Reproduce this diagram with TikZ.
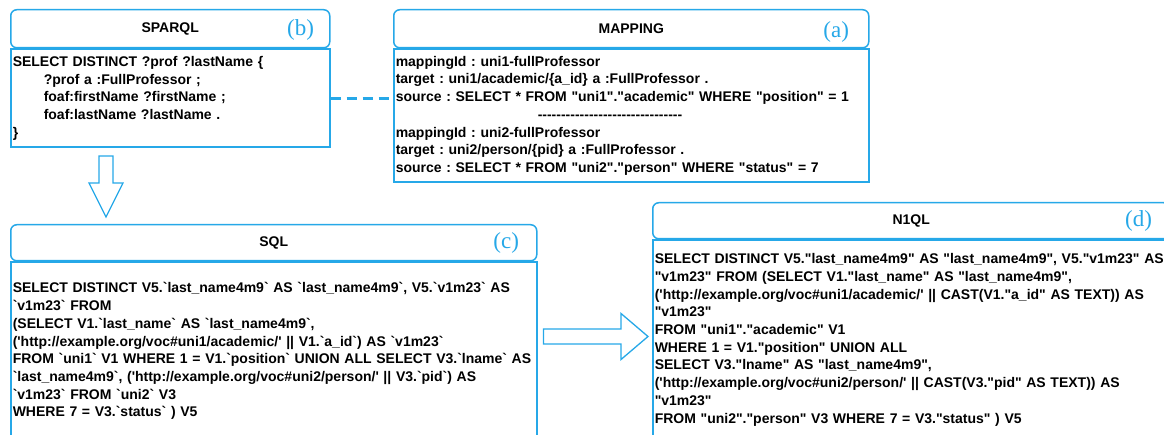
\documentclass[tikz,border=0pt]{standalone}
\usepackage{fontspec}
\newfontfamily\codefont{Liberation Sans}
\newfontfamily\tagfont{Liberation Serif}
\usepackage{tikz}
\usetikzlibrary{positioning,calc}
\definecolor{boxBlue}{RGB}{38,168,232}

\begin{document}
\begin{tikzpicture}[
  x=1pt, y=-1pt,
  head/.style={rectangle, rounded corners=6pt, draw=boxBlue, line width=1.5pt, fill=white,
    font=\codefont\bfseries\fontsize{14}{17}\selectfont, anchor=north west},
  body/.style={rectangle, draw=boxBlue, line width=1.5pt, align=left, inner xsep=2pt, inner ysep=0pt,
    font=\codefont\bfseries\fontsize{14}{17.7}\selectfont\frenchspacing},
  tag/.style={font=\tagfont\fontsize{23}{23}\selectfont, text=boxBlue, anchor=east},
  hollowArrow/.style={draw=boxBlue, line width=1.3pt, fill=white, line join=miter},
  dashLink/.style={draw=boxBlue, line width=3pt, dash pattern=on 10pt off 6pt}
]
  \useasboundingbox (0,0) rectangle (1164,435);

  % query side
  \node[head, minimum width=319pt, minimum height=38pt] (sparqlHead) at (10,9) {SPARQL};
  \node[body, below=0pt of sparqlHead, minimum width=319pt, text width=315pt, minimum height=98pt] (sparqlBody)
    {SELECT DISTINCT ?prof ?lastName \{\\
     \hspace*{31pt}?prof a :FullProfessor ;\\
     \hspace*{31pt}foaf:firstName ?firstName ;\\
     \hspace*{31pt}foaf:lastName ?lastName .\\
     \}};
  \node[tag] (sparqlTag) at ([xshift=-13pt, yshift=-1pt]sparqlHead.east) {(b)};

  % mapping
  \node[head, minimum width=475pt, minimum height=38pt] (mapHead) at (393,9) {MAPPING};
  \node[body, below=0pt of mapHead, minimum width=475pt, text width=471pt, minimum height=133pt] (mapBody)
    {mappingId : uni1-fullProfessor\\
     target : uni1/academic/\{a\_id\} a :FullProfessor .\\
     source : SELECT * FROM "uni1"."academic" WHERE "position" = 1\\
     \hspace*{142pt}-------------------------------\\
     mappingId : uni2-fullProfessor\\
     target : uni2/person/\{pid\} a :FullProfessor .\\
     source : SELECT * FROM "uni2"."person" WHERE "status" = 7};
  \node[tag] (mapTag) at ([xshift=-17pt, yshift=-3pt]mapHead.east) {(a)};

  % SQL
  \node[head, minimum width=526pt, minimum height=36pt] (sqlHead) at (10,224) {SQL};
  \node[body, below=0pt of sqlHead, minimum width=526pt, text width=522pt, minimum height=178pt] (sqlBody)
    {SELECT DISTINCT V5.`last\_name4m9` AS `last\_name4m9`, V5.`v1m23` AS\\
     `v1m23` FROM\\
     (SELECT V1.`last\_name` AS `last\_name4m9`,\\
     ('http://example.org/voc\#uni1/academic/' || V1.`a\_id`) AS `v1m23`\\
     FROM `uni1` V1 WHERE 1 = V1.`position` UNION ALL SELECT V3.`lname` AS\\
     `last\_name4m9`, ('http://example.org/voc\#uni2/person/' || V3.`pid`) AS\\
     `v1m23` FROM `uni2` V3\\
     WHERE 7 = V3.`status` ) V5};
  \node[tag] (sqlTag) at ([xshift=-15pt]sqlHead.east) {(c)};

  % N1QL
  \node[head, minimum width=517pt, minimum height=36pt] (nqlHead) at (652,202) {N1QL};
  \node[body, anchor=north west, minimum width=517pt, text width=545pt, minimum height=199pt] (nqlBody)
    at (nqlHead.south west)
    {SELECT DISTINCT V5."last\_name4m9" AS "last\_name4m9", V5."v1m23" AS\\
     "v1m23" FROM (SELECT V1."last\_name" AS "last\_name4m9",\\
     ('http://example.org/voc\#uni1/academic/' || CAST(V1."a\_id" AS TEXT)) AS\\
     "v1m23"\\
     FROM "uni1"."academic" V1\\
     WHERE 1 = V1."position" UNION ALL\\
     SELECT V3."lname" AS "last\_name4m9",\\
     ('http://example.org/voc\#uni2/person/' || CAST(V3."pid" AS TEXT)) AS\\
     "v1m23"\\
     FROM "uni2"."person" V3 WHERE 7 = V3."status" ) V5};
  \node[tag] (nqlTag) at ([xshift=-15pt]nqlHead.east) {(d)};

  % links
  \draw[dashLink] (sparqlBody.east) -- (sparqlBody.east -| mapBody.west);

  \coordinate (downTip) at ([xshift=96pt, yshift=7pt]sqlHead.north west);
  \coordinate (downTop) at ($(downTip |- sparqlBody.south)+(0,8)$);
  \draw[hollowArrow] ($(downTop)+(-7,0)$) -- ($(downTop)+(7,0)$) -- ($(downTip)+(7,-34)$)
    -- ($(downTip)+(17,-34)$) -- (downTip) -- ($(downTip)+(-17,-34)$) -- ($(downTip)+(-7,-34)$) -- cycle;

  \coordinate (rightTip) at ($(nqlBody.north west)+(-4,97)$);
  \coordinate (rightTail) at ($(sqlBody.east |- rightTip)+(6,0)$);
  \draw[hollowArrow] ($(rightTail)+(0,-7.5)$) -- ($(rightTip)+(-27,-7.5)$) -- ($(rightTip)+(-27,-23)$)
    -- (rightTip) -- ($(rightTip)+(-27,23)$) -- ($(rightTip)+(-27,7.5)$) -- ($(rightTail)+(0,7.5)$) -- cycle;
\end{tikzpicture}
\end{document}
